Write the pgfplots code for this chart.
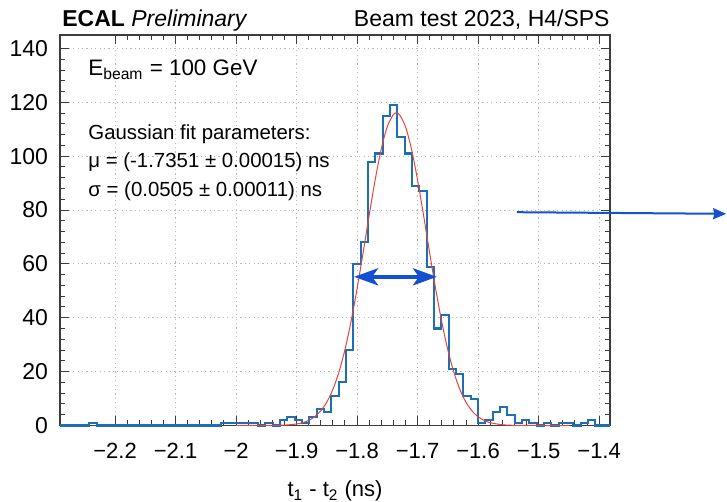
\documentclass[border=0pt]{standalone}
\usepackage{fontspec}
\setmainfont{Liberation Sans}
\usepackage{pgfplots}
\pgfplotsset{compat=1.18}
\usetikzlibrary{arrows.meta}
\definecolor{histblue}{RGB}{30,110,180}
\definecolor{fitred}{RGB}{225,70,60}
\definecolor{arrblue}{RGB}{20,80,210}
\definecolor{framegray}{RGB}{60,60,60}
\begin{document}
\begin{tikzpicture}
\begin{axis}[
  at={(0pt,0pt)}, anchor=south west,
  scale only axis, width=275pt, height=195.25pt,
  xmin=-2.291, xmax=-1.382, ymin=0, ymax=145,
  xtick={-2.2,-2.1,-2,-1.9,-1.8,-1.7,-1.6,-1.5,-1.4},
  xticklabels={−2.2,−2.1,−2,−1.9,−1.8,−1.7,−1.6,−1.5,−1.4},
  ytick={0,20,40,60,80,100,120,140},
  minor x tick num=4, minor y tick num=4,
  major tick length=4.5pt, minor tick length=2.5pt,
  tick style={framegray, line width=0.5pt},
  axis line style={framegray, line width=0.6pt},
  grid=major,
  major grid style={gray!55, dash pattern=on 0.6pt off 1.6pt, line width=0.5pt},
  tick label style={font=\fontsize{11}{13}\selectfont},
  xticklabel style={yshift=-5.5pt},
  yticklabel style={xshift=-2.5pt, font=\fontsize{11.5}{13}\selectfont},
  /pgf/number format/assume math mode=true,
  xlabel={t\textsubscript{1} - t\textsubscript{2} (ns)},
  xlabel style={font=\fontsize{11}{13}\selectfont, yshift=-4pt},
  clip=false,
]
\addplot[const plot, histblue, line width=1.05pt] coordinates {
(-2.2910,0) (-2.2789,0) (-2.2668,0) (-2.2546,0) (-2.2425,1) (-2.2304,0)
(-2.2183,0) (-2.2062,0) (-2.1940,0) (-2.1819,0) (-2.1698,0) (-2.1577,0)
(-2.1456,0) (-2.1334,0) (-2.1213,0) (-2.1092,0) (-2.0971,0) (-2.0850,0)
(-2.0728,0) (-2.0607,0) (-2.0486,0) (-2.0365,0) (-2.0244,1) (-2.0122,1)
(-2.0001,1) (-1.9880,1) (-1.9759,1) (-1.9638,0) (-1.9516,1) (-1.9395,0)
(-1.9274,2) (-1.9153,3) (-1.9032,2) (-1.8910,1) (-1.8789,3) (-1.8668,6)
(-1.8547,5) (-1.8426,11) (-1.8304,16) (-1.8183,28) (-1.8062,60) (-1.7941,68)
(-1.7820,98) (-1.7698,101) (-1.7577,115) (-1.7456,119) (-1.7335,107) (-1.7214,101)
(-1.7092,89) (-1.6971,87) (-1.6850,59) (-1.6729,36) (-1.6608,41) (-1.6486,21)
(-1.6365,19) (-1.6244,11) (-1.6123,10) (-1.6002,1) (-1.5880,2) (-1.5759,5)
(-1.5638,7) (-1.5517,4) (-1.5396,1) (-1.5274,2) (-1.5153,1) (-1.5032,0)
(-1.4911,1) (-1.4790,0) (-1.4668,1) (-1.4547,1) (-1.4426,0) (-1.4305,1)
(-1.4184,2) (-1.4062,0) (-1.3941,0) (-1.3820,0)
};
\addplot[fitred, line width=0.5pt, smooth] coordinates {
(-2.00,0) (-1.95,0.014) (-1.92,0.14) (-1.90,0.56) (-1.89,1.05) (-1.88,1.89)
(-1.87,3.27) (-1.86,5.45) (-1.85,8.72) (-1.84,13.42) (-1.83,19.84) (-1.82,28.24)
(-1.81,38.62) (-1.80,50.80) (-1.79,64.26) (-1.78,78.13) (-1.77,91.36) (-1.76,102.72)
(-1.75,111.06) (-1.74,115.45) (-1.7351,116) (-1.73,115.41) (-1.72,110.93) (-1.71,102.52)
(-1.70,91.11) (-1.69,77.85) (-1.68,63.97) (-1.67,50.54) (-1.66,38.40) (-1.65,28.05)
(-1.64,19.70) (-1.63,13.31) (-1.62,8.64) (-1.61,5.39) (-1.60,3.24) (-1.59,1.87)
(-1.58,1.04) (-1.56,0.285) (-1.54,0.067) (-1.50,0.003) (-1.45,0)
};
\draw[arrblue, line width=2pt, {Stealth[length=12pt,width=8.5pt,inset=3pt]}-{Stealth[length=12pt,width=8.5pt,inset=3pt]}]
  (axis cs:-1.805,55.2) -- (axis cs:-1.668,55.2);
\draw[arrblue, line width=1pt, -{Stealth[length=6.5pt,width=5.5pt,inset=0.5pt]}]
  (axis cs:-1.536,79.2) -- (axis cs:-1.190,78.6);
\end{axis}
\node[anchor=base west, inner sep=0pt, font=\fontsize{11.5}{13}\selectfont] at (1pt,199.25pt) {\textbf{ECAL} \textit{Preliminary}};
\node[anchor=base east, inner sep=0pt, font=\fontsize{11.5}{13}\selectfont] at (275pt,199.25pt) {Beam test 2023, H4/SPS};
\node[anchor=base west, inner sep=0pt, font=\fontsize{11.2}{13}\selectfont] at (14pt,174.75pt) {E\textsubscript{beam} = 100 GeV};
\node[anchor=base west, inner sep=0pt, font=\fontsize{10.2}{12}\selectfont] at (14pt,142.75pt) {Gaussian fit parameters:};
\node[anchor=base west, inner sep=0pt, font=\fontsize{10.2}{12}\selectfont] at (14pt,128.75pt) {μ = (-1.7351 ± 0.00015) ns};
\node[anchor=base west, inner sep=0pt, font=\fontsize{10.2}{12}\selectfont] at (14pt,114.25pt) {σ = (0.0505 ± 0.00011) ns};
\pgfresetboundingbox
\path[use as bounding box] (-30pt,-38.25pt) rectangle (333.5pt,212.75pt);
\end{tikzpicture}
\end{document}
